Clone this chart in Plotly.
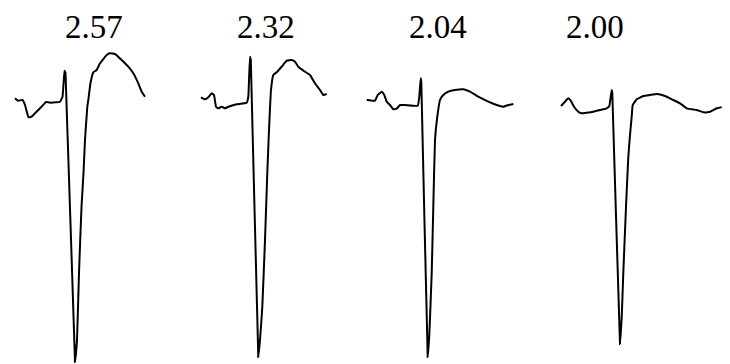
import plotly.graph_objects as go

labels = ["2.57", "2.32", "2.04", "2.00"]

# Beat 1 (time units, amplitude units)
t1 = [15, 18, 22.5, 25, 28.5, 31.5, 36.5, 41.5, 46, 51.5, 60, 62.5, 64.5, 65.5,
      75, 77, 79, 81.5, 83.5, 85, 87.3, 88.3, 90.5, 93.3, 96.7, 100, 106.7, 110,
      115, 121.7, 128.3, 133.3, 138.3, 141.7, 145]
v1 = [1.7, -0.7, 0, -5, -17.3, -16.7, -11.7, -6.7, -2, -2.7, -1.7, 3.3, 29.3, 27,
      -262, -240, -173, -107, -73, -40, -7, 0, 17, 27.7, 30, 36.7, 45, 46.7,
      46, 40, 33.3, 26.7, 16.7, 8.3, 3.3]

# Beat 2
t2 = [18.5, 22.5, 25.8, 29.2, 31.5, 33.5, 35.8, 39.2, 42.5, 45.8, 54.2, 64.2, 65.8,
      67.5, 68.3, 75.8, 77.5, 79.8, 82.5, 84.8, 86.3, 87.5, 88.5, 90.8, 94.8, 99.2,
      104.2, 109.2, 112.5, 115.8, 122.5, 127.5, 132.5, 137.5, 140.8, 144.2]
v2 = [2.7, 0.7, 2.7, 6.7, 5, -6.7, -8.3, -6.7, -8.3, -6.7, -4.3, -2.7, 3.3,
      43.3, 40, -257, -240, -207, -140, -73, -35, -8, 10, 25, 28.3, 33.3,
      39.3, 40, 38.3, 33.3, 28.3, 25, 16.7, 10, 5, 6]

# Beat 3
t3 = [1.7, 10, 12.7, 16.7, 19.3, 21.7, 25, 28.3, 31.7, 35, 40, 52.7, 54.3, 55.7,
      56.3, 62.7, 64.3, 66.7, 68.3, 70, 72.3, 75, 78.3, 83.3, 90, 98.3, 105, 113.3,
      123.3, 131.7, 138.3, 143.3, 148.3]
v3 = [0, -0.7, 5, 8.3, 5, -1.7, -5, -9.3, -8.7, -5, -5, -5.7, 3.3, 21.7,
      18, -257, -235, -173, -107, -40, -16.7, 0, 5, 8.3, 10, 10.7, 8.3, 3.3,
      -1.7, -5, -6.7, -5, -4]

# Beat 4
t4 = [13.5, 17.5, 20.8, 23.2, 26.5, 30.8, 34.2, 39.2, 45.8, 52.5, 59.2, 61.8, 64.2,
      64.8, 72.5, 74.3, 75.8, 78.5, 80.8, 82.5, 84.2, 85.2, 89.2, 95.8, 102.5, 109.2,
      117.5, 125.8, 132.5, 139.2, 149.2, 155.8, 162.5, 169.2, 174.2]
v4 = [-6, -1.7, 1.7, -0.7, -6.7, -11.7, -13.3, -12.7, -11.7, -10, -8.3, -6, 10,
      7, -244, -215, -173, -107, -57, -35, -16.7, -5, 0.7, 4, 5, 6,
      4, 0, -3.3, -8.3, -10, -12.3, -11.7, -8.3, -7.3]

beats = [(t1, v1), (t2, v2), (t3, v3), (t4, v4)]

fig = go.Figure()
for i, (t, v) in enumerate(beats):
    xa = "x" if i == 0 else f"x{i+1}"
    fig.add_trace(go.Scatter(x=t, y=v, mode="lines", xaxis=xa, yaxis="y",
                             line=dict(color="black", width=2, shape="spline", smoothing=0.3),
                             showlegend=False, hoverinfo="skip"))

layout = dict(
    width=730, height=364,
    margin=dict(l=0, r=0, t=0, b=0),
    paper_bgcolor="white", plot_bgcolor="white",
    yaxis=dict(range=[-264, 100], visible=False, fixedrange=True),
)
for i in range(4):
    key = "xaxis" if i == 0 else f"xaxis{i+1}"
    layout[key] = dict(domain=[i / 4, (i + 1) / 4], range=[0, 182.5], visible=False,
                       anchor="y", fixedrange=True)
fig.update_layout(**layout)

label_x = [94, 266, 438, 595]
for lx, lab in zip(label_x, labels):
    fig.add_annotation(x=lx / 730, y=1 - 27 / 364, xref="paper", yref="paper",
                       text=lab, showarrow=False,
                       font=dict(family="Liberation Serif", size=33, color="black"),
                       xanchor="center", yanchor="middle")

fig.write_html("out.html", config={"displayModeBar": False, "staticPlot": True},
               post_script="document.body.style.margin='0';document.body.style.overflow='hidden';")
